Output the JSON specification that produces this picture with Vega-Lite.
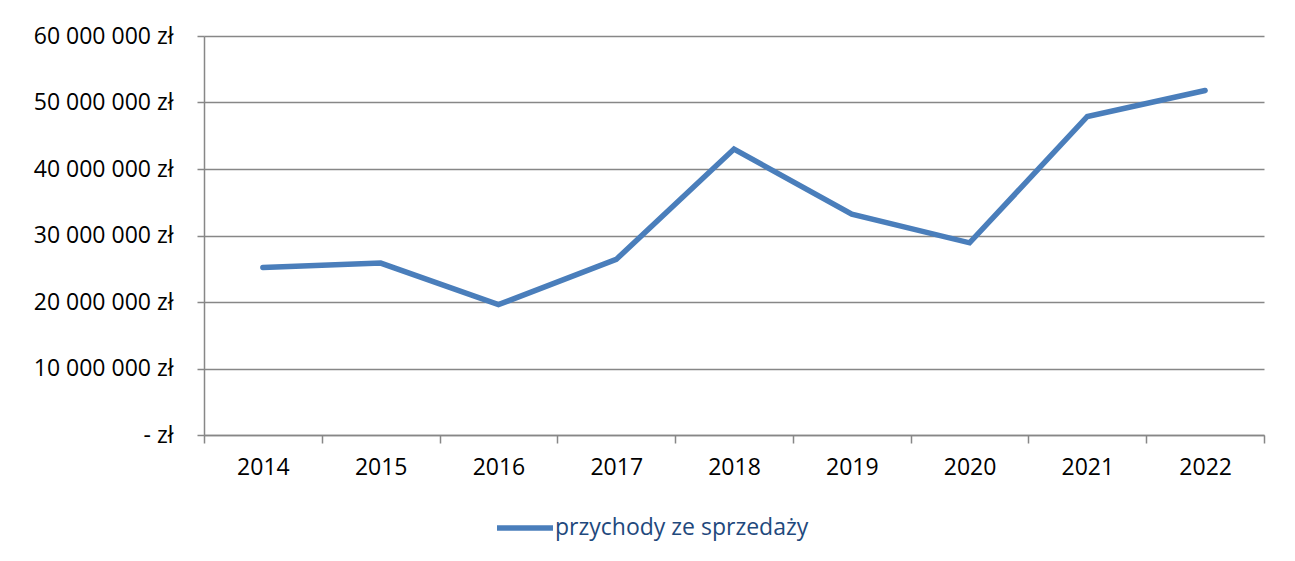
{
  "$schema": "https://vega.github.io/schema/vega-lite/v6.json",
  "width": 1060,
  "height": 399,
  "autosize": {"type": "none"},
  "padding": {"left": 204, "top": 36, "right": 31, "bottom": 126},
  "background": "white",
  "config": {
    "view": {"stroke": null},
    "font": "Open Sans",
    "axis": {
      "labelFont": "Open Sans",
      "labelFontSize": 23,
      "labelColor": "#000000",
      "domainColor": "#878787",
      "domainWidth": 1.5,
      "tickColor": "#878787",
      "tickWidth": 1.5,
      "gridColor": "#878787",
      "gridWidth": 1.5,
      "gridOpacity": 1
    }
  },
  "data": {
    "values": [
      {"rok": 2014, "przychody": 25200000},
      {"rok": 2015, "przychody": 25850000},
      {"rok": 2016, "przychody": 19600000},
      {"rok": 2017, "przychody": 26400000},
      {"rok": 2018, "przychody": 43000000},
      {"rok": 2019, "przychody": 33200000},
      {"rok": 2020, "przychody": 28900000},
      {"rok": 2021, "przychody": 47900000},
      {"rok": 2022, "przychody": 51800000}
    ]
  },
  "mark": {"type": "line", "strokeWidth": 5.5, "strokeCap": "round", "strokeJoin": "miter"},
  "encoding": {
    "x": {
      "field": "rok",
      "type": "quantitative",
      "scale": {"domain": [2013.5, 2022.5], "nice": false, "zero": false},
      "axis": {
        "title": null,
        "grid": false,
        "values": [2013.5, 2014.5, 2015.5, 2016.5, 2017.5, 2018.5, 2019.5, 2020.5, 2021.5, 2022.5],
        "tickSize": 8,
        "labelOffset": 58.9,
        "labelPadding": 13,
        "labelOverlap": false,
        "labelFlush": false,
        "labelBound": false,
        "labelExpr": "datum.value > 2022 ? '' : format(datum.value + 0.5, 'd')"
      }
    },
    "y": {
      "field": "przychody",
      "type": "quantitative",
      "scale": {"domain": [0, 60000000], "nice": false},
      "axis": {
        "title": null,
        "values": [0, 10000000, 20000000, 30000000, 40000000, 50000000, 60000000],
        "tickSize": 7,
        "labelPadding": 24,
        "labelExpr": "datum.value == 0 ? '- zł' : replace(format(datum.value, ',d'), /,/g, ' ') + ' zł'"
      }
    },
    "color": {
      "datum": "przychody ze sprzedaży",
      "scale": {"range": ["#4A7EBB"]},
      "legend": {
        "title": null,
        "orient": "none",
        "legendX": 290,
        "legendY": 461,
        "padding": 0,
        "symbolType": "stroke",
        "symbolSize": 3136,
        "symbolStrokeWidth": 5.5,
        "labelFont": "Open Sans",
        "labelFontSize": 23,
        "labelColor": "#1F497D",
        "labelOffset": -1,
        "labelLimit": 0
      }
    }
  }
}
